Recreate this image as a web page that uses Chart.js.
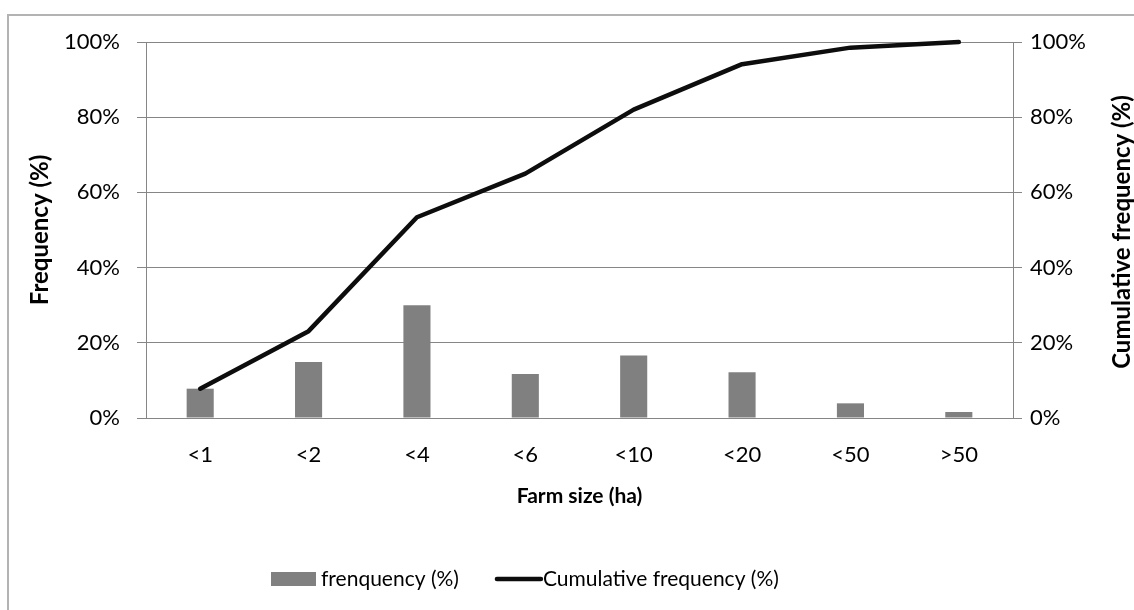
<!DOCTYPE html>
<html>
<head>
<meta charset="utf-8">
<script src="https://cdn.jsdelivr.net/npm/chart.js@4/dist/chart.umd.min.js"></script>
<style>
  html, body { margin: 0; padding: 0; background: #ffffff; }
  #wrap { position: relative; width: 1134px; height: 610px; }
</style>
</head>
<body>
<div id="wrap"><canvas id="c" width="1134" height="610"></canvas></div>
<script>
const categories = ['<1', '<2', '<4', '<6', '<10', '<20', '<50', '>50'];
const frequency = [7.8, 14.9, 30.0, 11.7, 16.6, 12.2, 3.9, 1.6];
const cumulative = [7.8, 23.1, 53.4, 65.0, 82.0, 94.1, 98.5, 100];
const yTickLabels = ['0%', '20%', '40%', '60%', '80%', '100%'];
const seriesLabels = ['frenquency (%)', 'Cumulative frequency (%)'];
const xTitle = 'Farm size (ha)';
const yTitle = 'Frequency (%)';
const y2Title = 'Cumulative frequency (%)';

const FONT = 'Lato';
const AXIS = '#868686';

const decor = {
  id: 'decor',
  beforeDraw(chart) {
    const ctx = chart.ctx;
    ctx.save();
    ctx.fillStyle = '#ffffff';
    ctx.fillRect(0, 0, chart.width, chart.height);
    ctx.strokeStyle = '#b3b3b3';
    ctx.lineWidth = 2;
    ctx.beginPath();
    ctx.moveTo(8, chart.height);
    ctx.lineTo(8, 15);
    ctx.lineTo(chart.width, 15);
    ctx.stroke();
    ctx.restore();
  },
  afterDraw(chart) {
    const ctx = chart.ctx;
    const a = chart.chartArea;
    // right axis title, reading bottom to top
    ctx.save();
    ctx.translate(1122, (a.top + a.bottom) / 2 + 2);
    ctx.rotate(-Math.PI / 2);
    ctx.font = 'bold 24px ' + FONT;
    ctx.textAlign = 'center';
    ctx.textBaseline = 'middle';
    ctx.fillStyle = '#000000';
    ctx.fillText(y2Title, 0, 0);
    ctx.restore();

    // legend
    const ds = chart.data.datasets;
    const bar = ds.find(d => d.type === 'bar');
    const line = ds.find(d => d.type === 'line');
    const cy = 579;
    ctx.save();
    ctx.font = '21px ' + FONT;
    ctx.textBaseline = 'middle';
    ctx.textAlign = 'left';
    let x = 271;
    ctx.fillStyle = bar.backgroundColor;
    ctx.fillRect(x, cy - 7, 45, 14);
    x += 45 + 5;
    ctx.fillStyle = '#000000';
    ctx.fillText(bar.label, x, cy);
    x += ctx.measureText(bar.label).width + 38;
    ctx.strokeStyle = line.borderColor;
    ctx.lineWidth = line.borderWidth;
    ctx.lineCap = 'round';
    ctx.beginPath();
    ctx.moveTo(x, cy);
    ctx.lineTo(x + 44, cy);
    ctx.stroke();
    x += 44 + 2;
    ctx.fillText(line.label, x, cy);
    ctx.restore();
  }
};

function build() {
  new Chart(document.getElementById('c'), {
    data: {
      labels: categories,
      datasets: [
        {
          type: 'bar',
          label: seriesLabels[0],
          data: frequency,
          yAxisID: 'y',
          backgroundColor: '#808080',
          borderWidth: 0,
          barPercentage: 0.25,
          categoryPercentage: 1.0,
          order: 1
        },
        {
          type: 'line',
          label: seriesLabels[1],
          data: cumulative,
          yAxisID: 'y2',
          borderColor: '#0d0d0d',
          borderWidth: 4.5,
          pointRadius: 0,
          pointHoverRadius: 0,
          tension: 0,
          borderJoinStyle: 'round',
          borderCapStyle: 'round',
          clip: false,
          order: 0
        }
      ]
    },
    options: {
      responsive: false,
      animation: false,
      devicePixelRatio: 1,
      layout: { padding: { top: 42, left: 0, right: 0, bottom: 100 } },
      plugins: {
        legend: { display: false },
        tooltip: { enabled: false },
        title: { display: false }
      },
      scales: {
        x: {
          type: 'category',
          offset: true,
          grid: { display: false, drawTicks: false },
          border: { display: true, color: AXIS, width: 1 },
          ticks: {
            color: '#000000',
            font: { family: FONT, size: 22 },
            padding: 24,
            maxRotation: 0,
            autoSkip: false
          },
          title: {
            display: true,
            text: xTitle,
            color: '#000000',
            font: { family: FONT, size: 21, weight: 'bold' },
            padding: { top: 0, bottom: 1 }
          },
          afterFit(s) { s.height = 92; }
        },
        y: {
          position: 'left',
          min: 0,
          max: 100,
          grid: { color: AXIS, lineWidth: 1, drawTicks: true, tickLength: 9, tickColor: AXIS },
          border: { display: true, color: AXIS, width: 1 },
          ticks: {
            stepSize: 20,
            color: '#000000',
            font: { family: FONT, size: 22 },
            padding: 17,
            callback: (v, i) => yTickLabels[i]
          },
          title: {
            display: true,
            text: yTitle,
            color: '#000000',
            font: { family: FONT, size: 24, weight: 'bold' },
            padding: { top: 26, bottom: 0 }
          },
          afterFit(s) { s.width = 146; }
        },
        y2: {
          position: 'right',
          min: 0,
          max: 100,
          grid: { drawOnChartArea: false, drawTicks: true, tickLength: 9, tickColor: AXIS, color: AXIS },
          border: { display: true, color: AXIS, width: 1 },
          ticks: {
            stepSize: 20,
            color: '#000000',
            font: { family: FONT, size: 22 },
            padding: 8,
            callback: (v, i) => yTickLabels[i]
          },
          afterFit(s) { s.width = 121; }
        }
      }
    },
    plugins: [decor]
  });
}

Promise.all([
  document.fonts.load('20px Lato'),
  document.fonts.load('bold 20px Lato')
]).then(build, build);
</script>
</body>
</html>
